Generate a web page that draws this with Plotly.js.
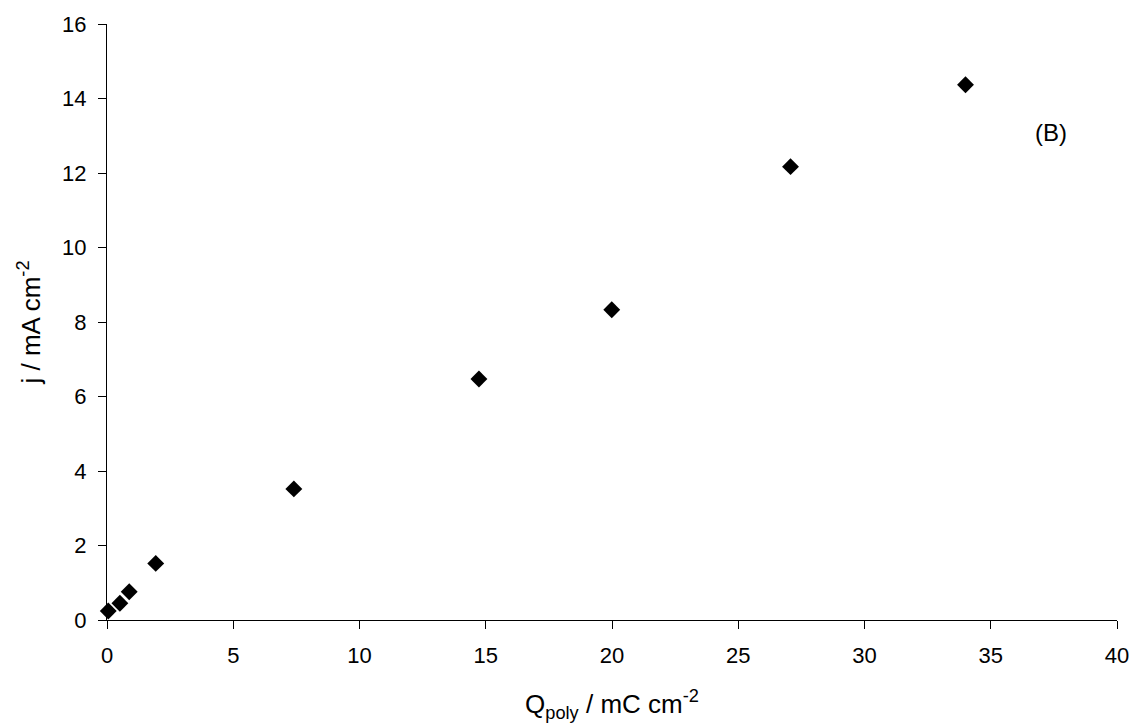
<!DOCTYPE html>
<html>
<head>
<meta charset="utf-8">
<script src="https://cdn.plot.ly/plotly-3.0.1.min.js"></script>
<style>html,body{margin:0;padding:0;background:#fff;}#chart{width:1135px;height:728px;}</style>
</head>
<body>
<div id="chart"></div>
<script>
const qPoly = [0.05, 0.51, 0.88, 1.93, 7.40, 14.73, 19.99, 27.07, 34.0];
const jValues = [0.24, 0.45, 0.76, 1.52, 3.52, 6.47, 8.33, 12.17, 14.37];
const xTicks = [0, 5, 10, 15, 20, 25, 30, 35, 40];
const yTicks = [0, 2, 4, 6, 8, 10, 12, 14, 16];
const panelLabel = "(B)";

const fontFam = "'Liberation Sans', Arial, sans-serif";

const trace = {
  x: qPoly, y: jValues, type: 'scatter', mode: 'markers',
  marker: {symbol: 'diamond', size: 13, color: '#000'},
  cliponaxis: false, showlegend: false, hoverinfo: 'none'
};

const axisCommon = {
  showline: true, linecolor: '#000', linewidth: 1,
  ticks: 'outside', ticklen: 8, tickcolor: '#000', tickwidth: 1,
  showgrid: false, zeroline: false,
  tickfont: {family: fontFam, size: 22, color: '#000'}
};

const layout = {
  width: 1135, height: 728,
  margin: {l: 107, r: 18, t: 24, b: 108},
  paper_bgcolor: '#fff', plot_bgcolor: '#fff',
  font: {family: fontFam, color: '#000'},
  xaxis: Object.assign({}, axisCommon, {
    range: [0, 40], tickvals: xTicks, ticktext: xTicks.map(String),
    ticklabelstandoff: 8,
    title: {text: 'Q<sub>poly</sub> / mC cm<sup>-2</sup>', font: {family: fontFam, size: 26, color: '#000'}, standoff: 27}
  }),
  yaxis: Object.assign({}, axisCommon, {
    range: [0, 16], tickvals: yTicks, ticktext: yTicks.map(String),
    ticklabelstandoff: 7,
    title: {text: 'j / mA cm<sup>-2</sup>', font: {family: fontFam, size: 26, color: '#000'}, standoff: 14}
  }),
  annotations: [{
    x: 37.4, y: 13.1, xref: 'x', yref: 'y', text: panelLabel, showarrow: false,
    font: {family: fontFam, size: 24, color: '#000'}
  }]
};

Plotly.newPlot('chart', [trace], layout, {displayModeBar: false, staticPlot: true});
</script>
</body>
</html>
